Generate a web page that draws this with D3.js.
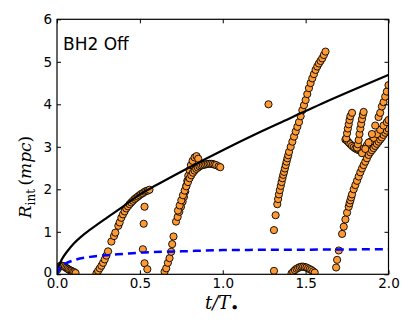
<!DOCTYPE html>
<html>
<head>
<meta charset="utf-8">
<script src="https://cdn.jsdelivr.net/npm/d3@7"></script>
<style>
  body { margin: 0; background: #fff; }
  svg { display: block; }
</style>
</head>
<body>
<div id="container"></div>
<script>
/* CONSTANTS AND GLOBALS */
const width = 415,
      height = 334,
      margin = {top: 19.3, left: 57, bottom: 59.7, right: 25};

/* DATA  [t/T, R_int] */
const xTicks = [0, 0.5, 1.0, 1.5, 2.0];
const yTicks = [0, 1, 2, 3, 4, 5, 6];

// solid black curve
const blackT = [0, 0.005, 0.01, 0.02, 0.04, 0.06, 0.1, 0.15, 0.2, 0.3, 0.4, 0.5, 0.6, 0.8, 1.0, 1.2, 1.4, 1.6, 1.8, 2.0];
const blackR = [0, 0.12, 0.19, 0.28, 0.42, 0.53, 0.72, 0.9, 1.05, 1.33, 1.6, 1.88, 2.1, 2.52, 2.92, 3.3, 3.66, 4.02, 4.36, 4.69];

// dashed blue curve
const blueT = [0, 0.01, 0.02, 0.05, 0.1, 0.2, 0.3, 0.4, 0.5, 0.75, 1.0, 1.5, 2.0];
const blueR = [0, 0.1, 0.18, 0.25, 0.33, 0.41, 0.45, 0.48, 0.51, 0.54, 0.57, 0.58, 0.59];

// orange points, one array per stream
const arcOrigin = [[0.0,0.1],[0.008,0.15],[0.016,0.19],[0.024,0.2],[0.032,0.2],[0.04,0.19],[0.048,0.17],[0.056,0.15],[0.064,0.13],[0.072,0.11],[0.08,0.09],[0.088,0.08],[0.096,0.06],[0.104,0.05],[0.112,0.03]];
const rise1 = [[0.238,0.02],[0.248,0.08],[0.258,0.14],[0.268,0.2],[0.278,0.27],[0.288,0.35],[0.298,0.44],[0.308,0.54],[0.328,0.77],[0.344,0.9],[0.352,0.98],[0.37,1.14],[0.378,1.22],[0.388,1.33],[0.398,1.41],[0.408,1.48],[0.418,1.55],[0.428,1.6],[0.438,1.65],[0.448,1.69],[0.458,1.73],[0.468,1.77],[0.478,1.8],[0.488,1.83],[0.498,1.86],[0.508,1.89],[0.518,1.91],[0.528,1.94],[0.538,1.96],[0.548,1.97],[0.558,1.99]];
const drop1 = [[0.528,1.59],[0.523,1.19],[0.518,0.59],[0.528,0.26],[0.545,0.12]];
const rise2 = [[0.649,0.06],[0.659,0.14],[0.669,0.27],[0.679,0.38],[0.689,0.53],[0.695,0.71],[0.703,0.89],[0.718,1.24],[0.728,1.35],[0.738,1.47],[0.748,1.59],[0.758,1.71],[0.766,1.82],[0.774,1.95],[0.78,2.08],[0.786,2.2],[0.792,2.32],[0.8,2.45],[0.808,2.57],[0.818,2.67],[0.83,2.75],[0.842,2.78],[0.852,2.72]];
const curve2 = [[0.73,1.5],[0.74,1.62],[0.75,1.74],[0.76,1.86],[0.77,1.97],[0.78,2.07],[0.79,2.17],[0.8,2.26],[0.81,2.33],[0.82,2.39],[0.83,2.44],[0.84,2.48],[0.85,2.51],[0.86,2.54],[0.87,2.56],[0.88,2.57],[0.89,2.58],[0.9,2.59],[0.91,2.595],[0.92,2.6],[0.93,2.6],[0.94,2.595],[0.95,2.58],[0.96,2.57],[0.975,2.54],[0.985,2.52]];
const singles = [[1.276,4.0],[1.309,0.08]];
const arcBottom = [[1.415,0.02],[1.425,0.06],[1.435,0.1],[1.445,0.13],[1.455,0.15],[1.465,0.17],[1.475,0.18],[1.485,0.18],[1.495,0.17],[1.505,0.16],[1.515,0.14],[1.525,0.12],[1.535,0.1],[1.545,0.07],[1.555,0.04]];
const column1 = [[1.309,1.04],[1.319,1.39],[1.329,1.65],[1.334,1.77],[1.339,1.88],[1.344,1.98],[1.35,2.08],[1.355,2.17],[1.36,2.26],[1.365,2.34],[1.37,2.41],[1.375,2.49],[1.38,2.57],[1.385,2.65],[1.39,2.73],[1.395,2.8],[1.4,2.88],[1.41,3.0],[1.42,3.12],[1.43,3.24],[1.44,3.36],[1.45,3.47],[1.46,3.58],[1.47,3.72],[1.48,3.86],[1.49,3.98],[1.5,4.1],[1.51,4.24],[1.52,4.38],[1.53,4.5],[1.54,4.61],[1.55,4.71],[1.56,4.81],[1.57,4.89],[1.58,4.96],[1.59,5.02],[1.6,5.08],[1.61,5.16],[1.62,5.24]];
const column2 = [[1.684,0.16],[1.69,0.34],[1.7,0.56],[1.72,0.95],[1.73,1.12],[1.74,1.29],[1.75,1.45],[1.76,1.59],[1.765,1.67],[1.77,1.74],[1.775,1.81],[1.78,1.88],[1.79,2.0],[1.8,2.1],[1.81,2.2],[1.82,2.3],[1.83,2.4],[1.84,2.49],[1.85,2.57],[1.86,2.65],[1.87,2.73],[1.88,2.81],[1.89,2.87],[1.9,2.92],[1.91,2.97],[1.92,3.02],[1.93,3.07],[1.94,3.12],[1.95,3.17],[1.96,3.22],[1.97,3.28],[1.98,3.33],[1.99,3.38],[2.0,3.43]];
const curl = [[1.74,3.17],[1.75,3.14],[1.76,3.1],[1.77,3.06],[1.78,3.02],[1.79,2.99],[1.8,2.96],[1.81,2.94],[1.82,2.92],[1.83,2.91]];
const stream3 = [[1.84,2.92],[1.85,2.96],[1.87,3.04],[1.89,3.12],[1.91,3.21],[1.93,3.3],[1.95,3.4],[1.97,3.5],[1.99,3.58],[2.0,3.63]];
const stream4 = [[1.84,2.85],[1.86,2.95],[1.88,3.1],[1.9,3.3],[1.92,3.5],[1.94,3.7],[1.95,3.8],[1.96,3.95],[1.97,4.05],[1.98,4.18],[1.99,4.3],[2.0,4.45]];
const fingerA = [[1.745,3.2],[1.75,3.32],[1.755,3.43],[1.76,3.53],[1.765,3.63],[1.77,3.72],[1.78,3.8]];
const fingerB = [[1.81,2.98],[1.815,3.06],[1.82,3.16],[1.825,3.3],[1.83,3.43],[1.835,3.54],[1.84,3.65],[1.845,3.75],[1.85,3.82]];

const points = [].concat(arcOrigin, rise1, drop1, rise2, curve2, singles, arcBottom,
                         column1, column2, curl, stream3, stream4, fingerA, fingerB);

// SCALES
const xScale = d3.scaleLinear()
                 .domain([0, 2])
                 .range([margin.left, width - margin.right - 1.5]);

const yScale = d3.scaleLinear()
                 .domain([0, 6])
                 .range([height - margin.bottom, margin.top]);

const x0 = xScale.range()[0], x1 = xScale.range()[1];
const y0 = yScale.range()[0], y1 = yScale.range()[1];

// CREATE SVG ELEMENT
const svg = d3.select("#container")
              .append("svg")
              .attr("width", width)
              .attr("height", height)
              .style("font-family", "'DejaVu Sans', sans-serif");

svg.append("clipPath")
   .attr("id", "plot-clip")
   .append("rect")
   .attr("x", x0).attr("y", y1)
   .attr("width", x1 - x0).attr("height", y0 - y1);

const plot = svg.append("g").attr("clip-path", "url(#plot-clip)");

// ORANGE POINTS
plot.selectAll("circle.pt")
    .data(points)
    .join("circle")
    .attr("class", "pt")
    .attr("cx", d => xScale(d[0]))
    .attr("cy", d => yScale(d[1]))
    .attr("r", 3.6)
    .attr("fill", "#ff9a33")
    .attr("stroke", "#000")
    .attr("stroke-width", 0.9);

// LINES
const lineGen = d3.line()
                  .curve(d3.curveMonotoneX)
                  .x(d => xScale(d[0]))
                  .y(d => yScale(d[1]));

plot.append("path")
    .datum(blackT.map((t, i) => [t, blackR[i]]))
    .attr("fill", "none")
    .attr("stroke", "#000")
    .attr("stroke-width", 2.2)
    .attr("d", lineGen);

plot.append("path")
    .datum(blueT.map((t, i) => [t, blueR[i]]))
    .attr("fill", "none")
    .attr("stroke", "#0000ff")
    .attr("stroke-width", 2.5)
    .attr("stroke-dasharray", "8,5")
    .attr("d", lineGen);

// AXES (ticks inside on all four sides)
const tickLen = 4;
const xAxis = d3.axisBottom(xScale).tickValues(xTicks).tickFormat(d3.format(".1f")).tickSizeInner(-tickLen).tickSizeOuter(0).tickPadding(4.5);
const yAxis = d3.axisLeft(yScale).tickValues(yTicks).tickFormat(d3.format("d")).tickSizeInner(-tickLen).tickSizeOuter(0).tickPadding(5);
const xTop = d3.axisTop(xScale).tickValues(xTicks).tickFormat("").tickSizeInner(-tickLen).tickSizeOuter(0);
const yRight = d3.axisRight(yScale).tickValues(yTicks).tickFormat("").tickSizeInner(-tickLen).tickSizeOuter(0);

function styleAxis(g) {
  g.select(".domain").remove();
  g.selectAll("line").attr("stroke", "#000").attr("stroke-width", 1);
  g.selectAll("text").attr("fill", "#000").style("font-size", "13.5px").style("font-family", "'DejaVu Sans', sans-serif");
}

svg.append("g").attr("transform", `translate(0,${y0})`).call(xAxis).call(styleAxis);
svg.append("g").attr("transform", `translate(${x0},0)`).call(yAxis).call(styleAxis)
   .selectAll(".tick text").filter(d => d === 0).attr("dy", "0.15em");
svg.append("g").attr("transform", `translate(0,${y1})`).call(xTop).call(styleAxis);
svg.append("g").attr("transform", `translate(${x1},0)`).call(yRight).call(styleAxis);

// FRAME
svg.append("rect")
   .attr("x", x0).attr("y", y1)
   .attr("width", x1 - x0).attr("height", y0 - y1)
   .attr("fill", "none")
   .attr("stroke", "#000")
   .attr("stroke-width", 1.2);

// ANNOTATION
svg.append("text")
   .attr("x", 63).attr("y", 49.5)
   .style("font-size", "17px")
   .text("BH2 Off");

// AXIS LABELS
const serif = "'DejaVu Serif', 'Liberation Serif', serif";
const xl = svg.append("text")
   .attr("x", 222).attr("y", 309)
   .attr("text-anchor", "middle")
   .style("font-family", serif)
   .style("font-size", "18px");
xl.append("tspan").style("font-style", "italic").text("t/T");
xl.append("tspan").attr("dy", 4).style("font-size", "15px").text("•");

const yl = svg.append("text")
   .attr("transform", "translate(31,177) rotate(-90)")
   .attr("text-anchor", "middle")
   .style("font-family", serif)
   .style("font-size", "17px");
yl.append("tspan").style("font-style", "italic").text("R");
yl.append("tspan").attr("dy", 4).style("font-size", "12px").text("int");
yl.append("tspan").attr("dy", -4).text("\u2009(");
yl.append("tspan").style("font-style", "italic").text("mpc");
yl.append("tspan").text(")");
</script>
</body>
</html>
